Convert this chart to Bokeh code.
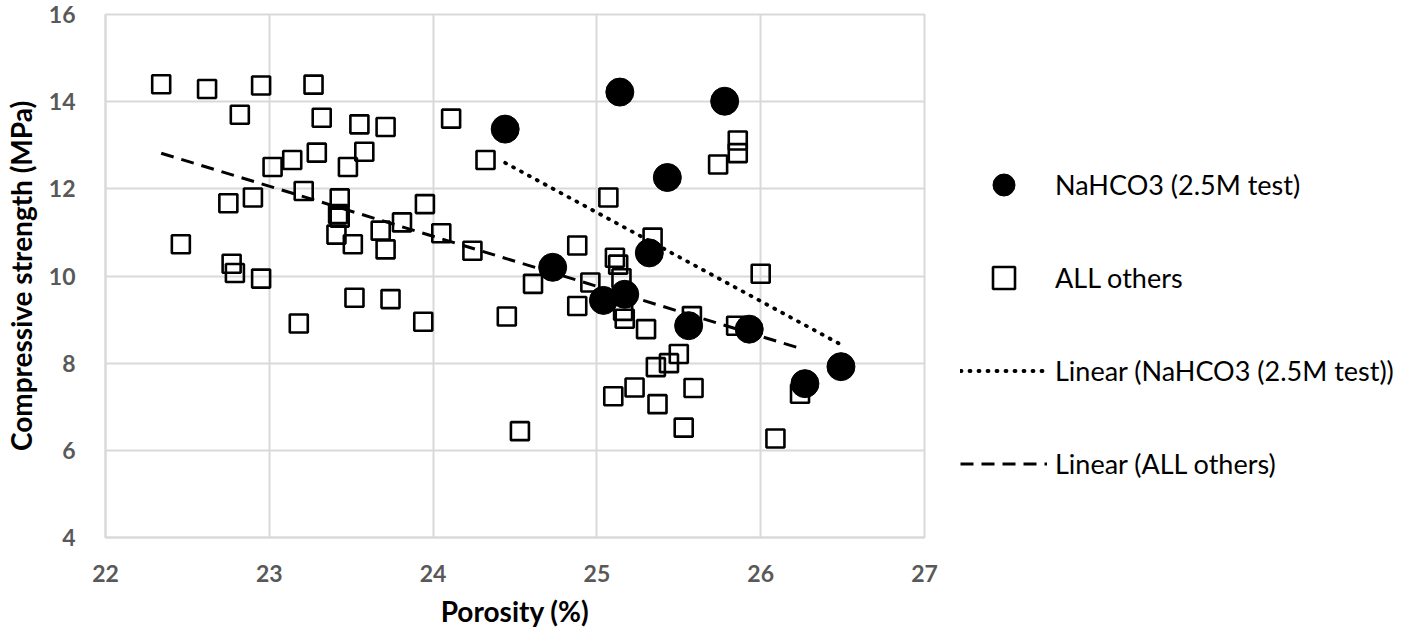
import numpy as np
from bokeh.plotting import figure
from bokeh.layouts import row
from bokeh.models import Legend, LegendItem, Range1d, FixedTicker
from bokeh.embed import file_html
from bokeh.resources import INLINE

# --- data ---
nahco3_x = [24.44, 25.14, 25.78, 25.43, 24.73, 25.32, 25.04, 25.17, 25.56, 25.93, 26.27, 26.49]
nahco3_y = [13.37, 14.22, 14.01, 12.26, 10.20, 10.53, 9.44, 9.58, 8.86, 8.78, 7.53, 7.92]

others_x = [22.34, 22.62, 22.95, 23.27, 22.82, 23.32, 23.55, 23.71, 24.11, 24.32,
            23.02, 23.14, 23.29, 23.58, 23.48, 23.21, 22.75, 22.90, 23.43, 23.42,
            23.43, 23.41, 23.51, 23.68, 23.81, 23.71, 23.95, 24.05, 24.24, 22.46,
            22.77, 22.79, 22.95, 23.52, 23.74, 23.18, 23.94, 25.07, 25.74, 25.86,
            25.86, 25.34, 24.88, 25.11, 25.13, 25.15, 26.00, 24.61, 24.96, 24.45,
            24.88, 25.16, 25.17, 25.30, 25.58, 25.85, 25.50, 25.44, 25.36, 25.23,
            25.10, 25.37, 25.59, 25.53, 24.53, 26.09, 26.24]
others_y = [14.40, 14.29, 14.37, 14.39, 13.70, 13.63, 13.48, 13.42, 13.61, 12.66,
            12.50, 12.66, 12.83, 12.85, 12.50, 11.95, 11.67, 11.80, 11.78, 11.42,
            11.34, 10.95, 10.73, 11.04, 11.23, 10.61, 11.65, 10.98, 10.58, 10.73,
            10.28, 10.07, 9.94, 9.50, 9.47, 8.91, 8.95, 11.80, 12.56, 13.11,
            12.82, 10.88, 10.70, 10.42, 10.26, 9.95, 10.05, 9.82, 9.85, 9.07,
            9.31, 9.20, 9.02, 8.78, 9.08, 8.86, 8.21, 8.00, 7.91, 7.44,
            7.24, 7.06, 7.43, 6.52, 6.44, 6.27, 7.30]

x_ticks = [22, 23, 24, 25, 26, 27]
y_ticks = [4, 6, 8, 10, 12, 14, 16]

label_nahco3 = "NaHCO3 (2.5M test)"
label_others = "ALL others"
label_fit_nahco3 = "Linear (NaHCO3 (2.5M test))"
label_fit_others = "Linear (ALL others)"

FONT = "Lato"
H = 630

p = figure(width=948, height=H, output_backend="svg", toolbar_location=None,
           x_range=Range1d(22, 27), y_range=Range1d(4, 16),
           min_border_left=103, min_border_right=24, min_border_top=14,
           min_border_bottom=92)
p.background_fill_color = "white"
p.border_fill_color = "white"
p.outline_line_color = "#d9d9d9"
p.outline_line_width = 2

for ax in (p.xaxis[0], p.yaxis[0]):
    ax.axis_line_color = "#d9d9d9"
    ax.axis_line_width = 2
    ax.major_tick_line_color = None
    ax.minor_tick_line_color = None
    ax.major_label_text_font = FONT
    ax.major_label_text_font_style = "bold"
    ax.major_label_text_font_size = "23px"
    ax.major_label_text_color = "#595959"
    ax.axis_label_text_font = FONT
    ax.axis_label_text_font_style = "bold"
    ax.axis_label_text_font_size = "28px"
    ax.axis_label_text_color = "black"

p.xaxis.ticker = FixedTicker(ticks=x_ticks)
p.yaxis.ticker = FixedTicker(ticks=y_ticks)
p.xaxis.axis_label = "Porosity (%)"
p.yaxis.axis_label = "Compressive strength (MPa)"
p.xaxis.major_label_standoff = 21
p.xaxis.axis_label_standoff = 9
p.yaxis.major_label_standoff = 24
p.yaxis.axis_label_standoff = 8

p.xgrid.grid_line_color = "#d9d9d9"
p.ygrid.grid_line_color = "#d9d9d9"
p.xgrid.grid_line_width = 2
p.ygrid.grid_line_width = 2

SQ = dict(marker="square", size=18, fill_color=None, line_color="black", line_width=2.6)
CI = dict(marker="circle", size=28, fill_color="black", line_color="black")
DOT = dict(line_color="black", line_width=3.8, line_dash="1 8", line_cap="round")
DASH = dict(line_color="black", line_width=3, line_dash="13 8")

p.scatter(others_x, others_y, **SQ)
p.scatter(nahco3_x, nahco3_y, **CI)

# linear trend lines computed from the data
k1, b1 = np.polyfit(nahco3_x, nahco3_y, 1)
fx1 = [min(nahco3_x), max(nahco3_x)]
p.line(fx1, [k1 * v + b1 for v in fx1], **DOT)
k2, b2 = np.polyfit(others_x, others_y, 1)
fx2 = [min(others_x), max(others_x)]
p.line(fx2, [k2 * v + b2 for v in fx2], **DASH)

# legend panel to the right (legend samples only: NaN data, nothing plotted)
q = figure(width=460, height=H, output_backend="svg", toolbar_location=None,
           x_range=Range1d(0, 1), y_range=Range1d(0, 1),
           x_axis_type=None, y_axis_type=None,
           min_border_left=0, min_border_right=0, min_border_top=0, min_border_bottom=0)
q.outline_line_color = None
q.xgrid.visible = False
q.ygrid.visible = False
q.background_fill_color = "white"
q.border_fill_color = "white"
nan1 = [float("nan")]
nan2 = [float("nan"), float("nan")]
l_ci = q.scatter(nan1, nan1, **CI)
l_sq = q.scatter(nan1, nan1, **SQ)
l_f1 = q.line(nan2, nan2, **DOT)
l_f2 = q.line(nan2, nan2, **DASH)

legend = Legend(items=[
    LegendItem(label=label_nahco3, renderers=[l_ci]),
    LegendItem(label=label_others, renderers=[l_sq]),
    LegendItem(label=label_fit_nahco3, renderers=[l_f1]),
    LegendItem(label=label_fit_others, renderers=[l_f2]),
], location=(12, 46))
legend.border_line_color = None
legend.background_fill_alpha = 0
legend.padding = 0
legend.margin = 0
legend.glyph_width = 87
legend.glyph_height = 55
legend.spacing = 38
legend.label_standoff = 8
legend.label_text_font = FONT
legend.label_text_font_size = "27px"
legend.label_text_color = "black"
q.add_layout(legend)

layout = row(p, q)
open("out.html", "w").write(file_html(layout, INLINE))
